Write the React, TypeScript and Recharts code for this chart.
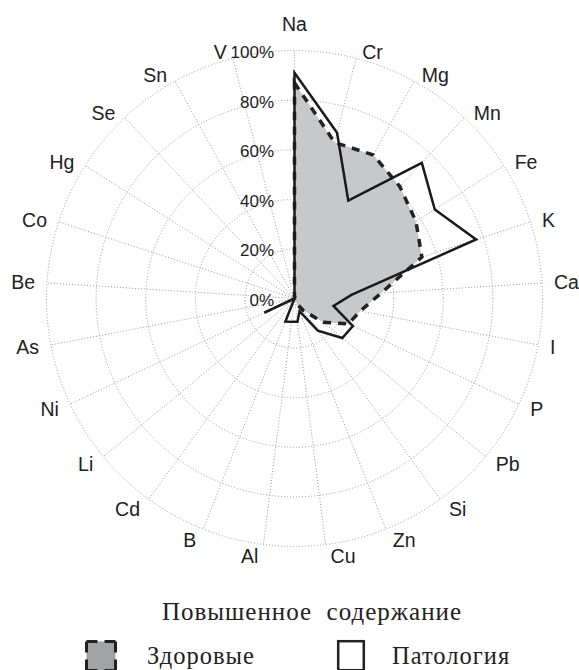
import React from 'react';
import { RadarChart, Radar, PolarGrid, PolarAngleAxis, PolarRadiusAxis, Legend } from 'recharts';

// elements, clockwise from the top
const elements = ['Na', 'Cr', 'Mg', 'Mn', 'Fe', 'K', 'Ca', 'I', 'P', 'Pb', 'Si', 'Zn', 'Cu', 'Al', 'B', 'Cd', 'Li', 'Ni', 'As', 'Be', 'Co', 'Hg', 'Se', 'Sn', 'V'];
// share of patients with elevated content, %
const healthy = [87, 65, 66, 62, 58, 54, 35, 27, 24, 15, 6, 2, 1, 0, 0, 0, 0, 0, 0, 0, 0, 0, 0, 0, 0];
const pathology = [91, 69, 45, 75, 67, 77, 23, 16, 26, 25, 16, 5.5, 9.5, 9.5, 10, 0, 0, 13.5, 0, 0, 0, 0, 0, 0, 0];
const radiusTicks = [0, 20, 40, 60, 80, 100];

const legendTitle = 'Повышенное  содержание';
const healthyName = 'Здоровые';
const pathologyName = 'Патология';

const data = elements.map((el, i) => ({ el, healthy: healthy[i], pathology: pathology[i] }));

const CX = 294.5;
const CY = 298.5;
const R = 248;
const SANS = '"Liberation Sans", Arial, sans-serif';
const SERIF = '"Liberation Serif", "Times New Roman", serif';

function AngleTick(props: any) {
  const { payload } = props;
  const a = (payload.coordinate * Math.PI) / 180;
  const cos = Math.cos(a);
  const sin = Math.sin(a);
  const ex = CX + R * cos;
  const ey = CY - R * sin;
  let anchor: 'start' | 'end' | 'middle' = 'middle';
  let dx = 0;
  let dy = -27;
  if (Math.abs(cos) > 1e-3) {
    anchor = cos > 0 ? 'start' : 'end';
    dx = Math.sign(cos) * (4 + 8 * Math.abs(cos));
    dy = -sin * (sin > 0 ? 7 : 12);
  }
  return (
    <text x={ex + dx} y={ey + dy} textAnchor={anchor} dominantBaseline="central"
      fontFamily={SANS} fontSize={19.5} fill="#222">
      {payload.value}
    </text>
  );
}

function RadiusTick(props: any) {
  const { x, y, payload } = props;
  return (
    <text x={x - 20.5} y={y + 2} textAnchor="end" dominantBaseline="central"
      fontFamily={SANS} fontSize={17} fill="#222">
      {payload.value}%
    </text>
  );
}

function LegendBox() {
  return (
    <svg width={579} height={80} style={{ display: 'block' }}>
      <text x={312} y={30} textAnchor="middle" fontFamily={SERIF} fontSize={25} letterSpacing={1}
        fill="#222" style={{ whiteSpace: 'pre' }}>
        {legendTitle}
      </text>
      <rect x={86.5} y={51.5} width={29} height={29} fill="#a2a3a5" stroke="#222"
        strokeWidth={3} strokeDasharray="11 7 11 0" />
      <text x={147} y={73.5} fontFamily={SERIF} fontSize={24.5} letterSpacing={1} fill="#222">{healthyName}</text>
      <rect x={338.2} y={51.2} width={25.6} height={29} fill="#fff" stroke="#222" strokeWidth={2.5} />
      <text x={392} y={73.5} fontFamily={SERIF} fontSize={24.5} letterSpacing={1} fill="#222">{pathologyName}</text>
    </svg>
  );
}

export default function App() {
  return (
    <div style={{ position: 'absolute', left: 0, top: 0, width: 579, height: 670, overflow: 'hidden', background: '#fff' }}>
      <RadarChart width={579} height={670} data={data} cx={CX} cy={CY} outerRadius={R}
        margin={{ top: 0, right: 0, bottom: 0, left: 0 }}>
        <PolarGrid gridType="circle" stroke="#999" strokeDasharray="1 2" />
        <PolarAngleAxis dataKey="el" tick={AngleTick} tickLine={false} axisLine={false} />
        <PolarRadiusAxis angle={90} domain={[0, 100]} ticks={radiusTicks as any} tickCount={6}
          axisLine={false} tickLine={false} tick={RadiusTick} />
        <Radar name={healthyName} dataKey="healthy" fill="#c7c8ca" fillOpacity={1} stroke="#222"
          strokeWidth={3.5} strokeDasharray="8 7" strokeLinejoin="miter" dot={false} isAnimationActive={false} />
        <Radar name={pathologyName} dataKey="pathology" fill="none" fillOpacity={0} stroke="#1a1a1a"
          strokeWidth={2.5} strokeLinejoin="miter" dot={false} isAnimationActive={false} />
        <Legend content={() => <LegendBox />}
          wrapperStyle={{ position: 'absolute', left: 0, top: 590, width: 579, height: 80 }} />
      </RadarChart>
    </div>
  );
}
